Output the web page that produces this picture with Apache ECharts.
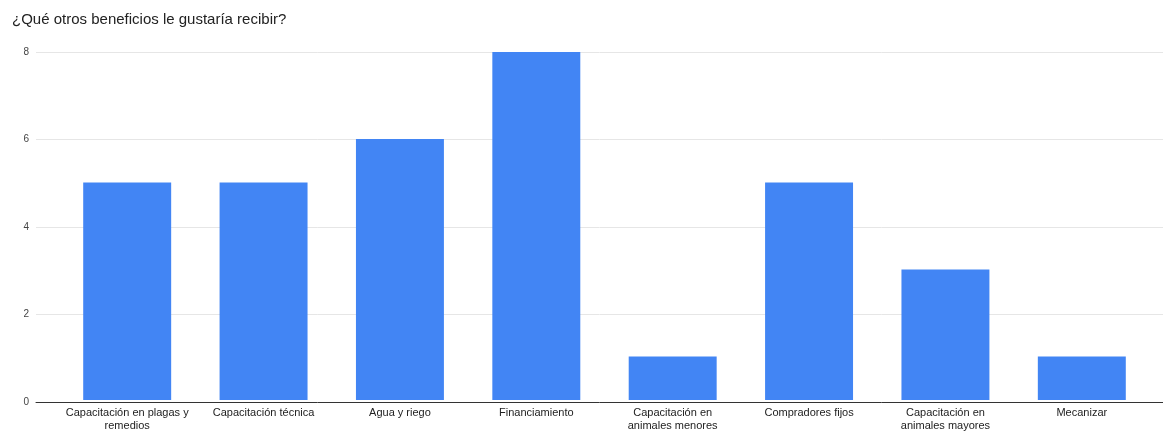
<!DOCTYPE html>
<html>
<head>
<meta charset="utf-8">
<script src="https://cdn.jsdelivr.net/npm/echarts@6/dist/echarts.min.js"></script>
<style>
  html, body { margin: 0; padding: 0; background: #fff; }
  #chart { width: 1163px; height: 432px; }
</style>
</head>
<body>
<div id="chart"></div>
<script>
// Chart text and values
const chartTitle = '¿Qué otros beneficios le gustaría recibir?';
const categories = [
  'Capacitación en plagas y\nremedios',
  'Capacitación técnica',
  'Agua y riego',
  'Financiamiento',
  'Capacitación en\nanimales menores',
  'Compradores fijos',
  'Capacitación en\nanimales mayores',
  'Mecanizar'
];
const responses = [5, 5, 6, 8, 1, 5, 3, 1];
const yTicks = [0, 2, 4, 6, 8];

const FONT = '"Liberation Sans", Arial, sans-serif';
const yMin = yTicks[0];
const yMax = yTicks[yTicks.length - 1];
const yStep = yTicks[1] - yTicks[0];

const chart = echarts.init(document.getElementById('chart'), null, { renderer: 'canvas' });

chart.setOption({
  animation: false,
  backgroundColor: '#ffffff',
  title: {
    text: chartTitle,
    left: 12,
    top: 12,
    padding: 0,
    textStyle: { fontFamily: FONT, fontSize: 15, fontWeight: 'normal', color: '#222222' }
  },
  grid: [
    // wide grid: gridlines, baseline and value labels
    { left: 36, right: 0, top: 52, bottom: 30 },
    // inner grid: bars and category labels
    { left: 59, right: 13, top: 52, bottom: 30 }
  ],
  xAxis: [
    {
      gridIndex: 0,
      type: 'value',
      min: 0,
      max: 1,
      axisLine: { show: true, onZero: false, lineStyle: { color: '#333333', width: 1 } },
      axisTick: { show: false },
      axisLabel: { show: false },
      splitLine: { show: false }
    },
    {
      gridIndex: 1,
      type: 'category',
      data: categories,
      axisLine: { show: false },
      axisTick: { show: false },
      axisLabel: {
        interval: 0,
        margin: 6,
        fontFamily: FONT,
        fontSize: 11,
        lineHeight: 13,
        color: '#222222'
      }
    }
  ],
  yAxis: [
    {
      gridIndex: 0,
      type: 'value',
      min: yMin,
      max: yMax,
      interval: yStep,
      axisLine: { show: false },
      axisTick: { show: false },
      axisLabel: { margin: 7, fontFamily: FONT, fontSize: 10, color: '#444444' },
      splitLine: { show: true, lineStyle: { color: '#e6e6e6', width: 1 } }
    },
    {
      gridIndex: 1,
      type: 'value',
      min: yMin,
      max: yMax,
      interval: yStep,
      axisLine: { show: false },
      axisTick: { show: false },
      axisLabel: { show: false },
      splitLine: { show: false }
    }
  ],
  series: [
    {
      type: 'bar',
      xAxisIndex: 1,
      yAxisIndex: 1,
      data: responses,
      barCategoryGap: '35.5%',
      itemStyle: { color: '#4285f4' },
      z: 3
    }
  ]
});
</script>
</body>
</html>
